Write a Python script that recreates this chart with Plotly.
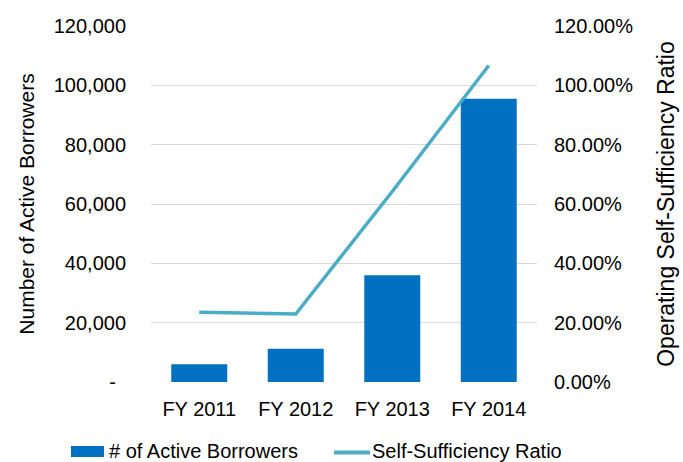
import plotly.graph_objects as go

categories = ["FY 2011", "FY 2012", "FY 2013", "FY 2014"]
borrowers = [6000, 11200, 36000, 95500]
ratio = [0.235, 0.229, 0.642, 1.067]

left_ticks = [0, 20000, 40000, 60000, 80000, 100000, 120000]
left_labels = ["-\u2002", "20,000", "40,000", "60,000", "80,000", "100,000", "120,000"]
right_ticks = [0, 0.2, 0.4, 0.6, 0.8, 1.0, 1.2]
right_labels = ["0.00%", "20.00%", "40.00%", "60.00%", "80.00%", "100.00%", "120.00%"]

BAR_NAME = "# of Active Borrowers"
LINE_NAME = "Self-Sufficiency Ratio"
BAR_COLOR = "#0070C0"
LINE_COLOR = "#4BACC6"
FONT = "Liberation Sans, Arial, sans-serif"

L, R, T, B = 151, 146, 26, 80
W, H = 683, 462
PW, PH = W - L - R, H - T - B


def px_x(px):
    return (px - L) / PW


def px_y(py):
    return (H - B - py) / PH


fig = go.Figure()
fig.add_trace(go.Bar(
    x=categories, y=borrowers, name=BAR_NAME,
    marker=dict(color=BAR_COLOR, line=dict(width=0)), yaxis="y",
))
fig.add_trace(go.Scatter(
    x=categories, y=ratio, name=LINE_NAME, mode="lines",
    line=dict(color=LINE_COLOR, width=3.5), yaxis="y2",
))

shapes = [
    dict(type="rect", xref="paper", yref="paper",
         x0=px_x(71), x1=px_x(104), y0=px_y(457), y1=px_y(446),
         fillcolor=BAR_COLOR, line=dict(width=0)),
    dict(type="line", xref="paper", yref="paper",
         x0=px_x(334), x1=px_x(370), y0=px_y(452.5), y1=px_y(452.5),
         line=dict(color=LINE_COLOR, width=4)),
]
annotations = [
    dict(text=BAR_NAME, xref="paper", yref="paper", x=px_x(107), y=px_y(451),
         xanchor="left", yanchor="middle", showarrow=False, font=dict(size=20)),
    dict(text=LINE_NAME, xref="paper", yref="paper", x=px_x(370), y=px_y(451),
         xanchor="left", yanchor="middle", showarrow=False, font=dict(size=20)),
]

fig.update_layout(
    width=W, height=H,
    margin=dict(l=L, r=R, t=T, b=B),
    paper_bgcolor="white", plot_bgcolor="white",
    font=dict(family=FONT, size=20, color="#000000"),
    bargap=0.42,
    showlegend=False,
    hovermode=False,
    shapes=shapes,
    annotations=annotations,
    xaxis=dict(showgrid=False, showline=False, ticks="", tickfont=dict(size=20),
               automargin=False, ticklabelstandoff=13),
    yaxis=dict(range=[0, 120000], tickvals=left_ticks, ticktext=left_labels,
               showgrid=True, gridcolor="#D9D9D9", gridwidth=1.3, zeroline=False,
               ticks="", ticklen=0, tickfont=dict(size=20), automargin=False,
               ticklabelstandoff=24,
               title=dict(text="Number of Active Borrowers", font=dict(size=21), standoff=13)),
    yaxis2=dict(range=[0, 1.2], tickvals=right_ticks, ticktext=right_labels,
                overlaying="y", side="right", showgrid=False, zeroline=False,
                tickfont=dict(size=20), automargin=False, ticklabelstandoff=16,
                title=dict(text="Operating Self-Sufficiency Ratio", font=dict(size=23), standoff=25)),
)

fig.write_html("out.html",
               config={"displayModeBar": False},
               post_script="document.body.style.margin='0px';document.body.style.overflow='hidden';")
